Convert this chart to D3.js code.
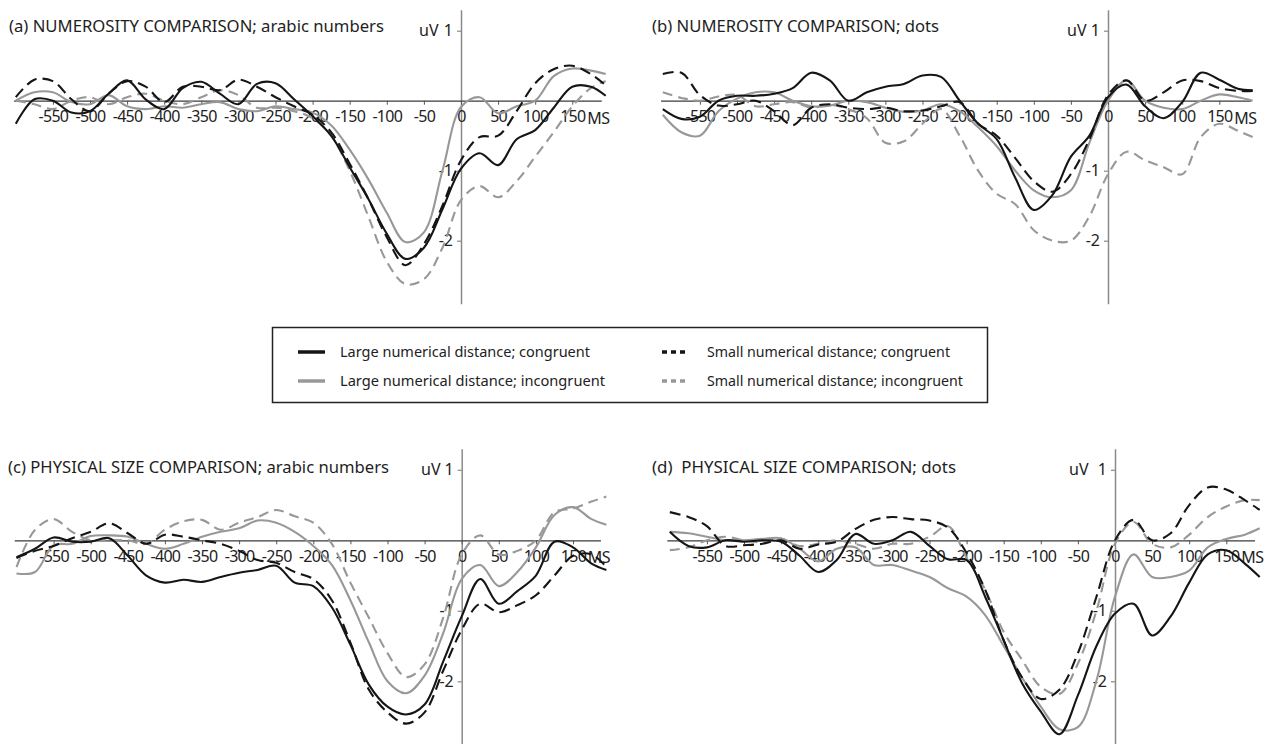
<!DOCTYPE html>
<html>
<head>
<meta charset="utf-8">
<script src="https://cdn.jsdelivr.net/npm/d3@7"></script>
<style>
  body { margin: 0; background: #fff; }
  svg { display: block; }
  text { font-family: "Noto Sans", "Open Sans", sans-serif; }
</style>
</head>
<body>
<svg id="chart" width="1264" height="744"></svg>
<script>
// Sample times (ms, relative to response) shared by every waveform
const times = [-600,-575,-550,-525,-500,-475,-450,-425,-400,-375,-350,-325,-300,-275,-250,-225,-200,
               -175,-150,-125,-100,-75,-50,-25,0,25,50,75,100,125,150,175,195];

const xTickValues = [-550,-500,-450,-400,-350,-300,-250,-200,-150,-100,-50,0,50,100,150];
const yTickValues = [1,-1,-2];

const seriesLabels = [
  "Large numerical distance; congruent",
  "Large numerical distance; incongruent",
  "Small numerical distance; congruent",
  "Small numerical distance; incongruent"
];

const panelTitles = [
  "(a) NUMEROSITY COMPARISON; arabic numbers",
  "(b) NUMEROSITY COMPARISON; dots",
  "(c) PHYSICAL SIZE COMPARISON; arabic numbers",
  "(d)  PHYSICAL SIZE COMPARISON; dots"
];

// (a) numerosity comparison, arabic numbers (uV)
const numArabicLargeCong   = [-0.33,0.02,0.0,-0.17,-0.15,0.1,0.29,0.02,-0.12,0.18,0.27,0.1,-0.05,0.24,0.25,0.02,-0.22,-0.5,-0.95,-1.4,-1.9,-2.26,-2.1,-1.55,-0.97,-0.75,-0.92,-0.55,-0.42,-0.1,0.2,0.2,0.07];
const numArabicLargeIncong = [0.0,0.12,0.12,-0.02,-0.05,0.08,-0.08,-0.12,-0.08,-0.1,-0.05,-0.02,-0.12,-0.15,-0.08,-0.12,-0.17,-0.35,-0.7,-1.12,-1.6,-2.02,-1.88,-1.0,-0.09,0.05,-0.18,-0.08,0.0,0.35,0.46,0.43,0.38];
const numArabicSmallCong   = [0.05,0.3,0.28,0.02,-0.15,0.1,0.28,0.2,-0.02,0.2,0.2,0.15,0.3,0.2,0.05,-0.08,-0.2,-0.45,-0.9,-1.4,-1.95,-2.35,-2.05,-1.5,-0.85,-0.52,-0.5,-0.15,0.25,0.45,0.5,0.38,0.22];
const numArabicSmallIncong = [0.0,-0.05,-0.12,0.0,0.05,-0.05,0.05,0.1,0.0,-0.05,0.05,0.15,0.08,-0.1,-0.1,-0.15,-0.25,-0.5,-1.0,-1.65,-2.3,-2.62,-2.55,-2.1,-1.42,-1.22,-1.38,-1.15,-0.8,-0.45,-0.08,0.18,0.28];

// (b) numerosity comparison, dots
const numDotsLargeCong   = [-0.12,-0.26,-0.23,0.0,0.07,0.07,0.1,0.18,0.4,0.29,0.0,0.12,0.2,0.24,0.36,0.34,0.0,-0.33,-0.55,-1.1,-1.56,-1.35,-0.8,-0.5,0.05,0.23,-0.08,-0.25,-0.02,0.4,0.3,0.17,0.15];
const numDotsLargeIncong = [-0.2,-0.45,-0.5,-0.15,0.03,0.12,0.12,0.0,-0.08,-0.07,0.0,-0.02,-0.1,-0.16,-0.14,-0.05,-0.15,-0.38,-0.65,-1.0,-1.28,-1.38,-1.28,-0.6,0.0,0.29,0.0,-0.1,-0.12,0.0,0.09,0.05,0.0];
const numDotsSmallCong   = [0.38,0.4,0.08,-0.07,-0.05,0.0,-0.15,-0.35,-0.1,-0.05,-0.1,-0.12,-0.1,-0.15,-0.14,-0.08,-0.02,-0.33,-0.5,-0.82,-1.15,-1.3,-1.05,-0.55,0.08,0.29,0.0,0.12,0.29,0.28,0.18,0.14,0.14];
const numDotsSmallIncong = [0.12,0.04,0.0,0.06,0.08,-0.08,-0.05,-0.02,-0.1,-0.06,-0.12,-0.25,-0.6,-0.58,-0.33,-0.12,-0.5,-1.0,-1.33,-1.48,-1.85,-2.0,-2.0,-1.65,-1.05,-0.73,-0.85,-0.95,-1.05,-0.52,-0.33,-0.43,-0.52];

// (c) physical size comparison, arabic numbers
const sizeArabicLargeCong   = [-0.24,-0.12,0.04,-0.02,-0.02,0.03,-0.22,-0.5,-0.6,-0.56,-0.59,-0.52,-0.46,-0.42,-0.36,-0.6,-0.65,-0.95,-1.48,-2.05,-2.36,-2.47,-2.33,-1.72,-1.08,-0.55,-0.9,-0.72,-0.5,-0.02,-0.1,-0.33,-0.42];
const sizeArabicLargeIncong = [-0.47,-0.45,-0.07,-0.05,0.06,0.07,0.05,-0.05,-0.12,-0.05,0.05,0.12,0.17,0.28,0.25,0.12,-0.08,-0.35,-0.85,-1.45,-2.0,-2.17,-1.92,-1.32,-0.55,-0.35,-0.65,-0.45,-0.1,0.36,0.47,0.3,0.22];
const sizeArabicSmallCong   = [-0.25,-0.15,-0.08,0.03,0.12,0.24,0.1,-0.05,0.08,0.05,0.0,-0.05,-0.15,-0.28,-0.32,-0.45,-0.55,-0.85,-1.45,-2.12,-2.44,-2.6,-2.44,-1.85,-1.27,-0.9,-1.02,-0.92,-0.78,-0.5,-0.22,-0.2,-0.38];
const sizeArabicSmallIncong = [-0.38,0.15,0.3,0.12,0.0,0.0,0.0,-0.05,0.15,0.27,0.29,0.15,0.25,0.33,0.43,0.34,0.25,-0.05,-0.6,-1.1,-1.6,-1.94,-1.76,-1.1,-0.2,0.07,-0.2,-0.15,0.0,0.4,0.45,0.55,0.62];

// (d) physical size comparison, dots
const sizeDotsLargeCong   = [0.12,-0.08,-0.1,0.0,-0.02,0.0,-0.02,-0.22,-0.45,-0.28,0.09,-0.05,0.0,0.12,-0.08,-0.27,-0.28,-0.8,-1.42,-2.03,-2.43,-2.75,-2.2,-1.5,-1.04,-0.9,-1.35,-1.08,-0.6,-0.2,-0.14,-0.33,-0.52];
const sizeDotsLargeIncong = [0.12,0.1,0.05,0.0,0.0,0.02,0.03,-0.12,-0.3,-0.12,-0.1,-0.35,-0.35,-0.43,-0.52,-0.68,-0.8,-1.06,-1.5,-1.95,-2.36,-2.68,-2.65,-1.99,-0.8,-0.2,-0.52,-0.52,-0.43,-0.1,0.02,0.08,0.17];
const sizeDotsSmallCong   = [0.4,0.33,0.2,-0.08,-0.07,-0.05,0.0,-0.12,-0.06,-0.02,0.16,0.29,0.33,0.3,0.28,0.18,-0.18,-0.7,-1.42,-1.95,-2.25,-2.12,-1.6,-0.8,0.0,0.29,0.0,0.1,0.5,0.75,0.72,0.57,0.43];
const sizeDotsSmallIncong = [-0.14,-0.1,0.0,0.05,0.0,-0.03,0.02,-0.08,-0.05,0.0,-0.05,-0.12,-0.05,-0.05,0.05,0.2,-0.25,-0.7,-1.3,-1.7,-2.08,-2.18,-1.75,-1.0,-0.05,0.26,-0.05,-0.1,0.08,0.33,0.48,0.57,0.57];

// ---- layout & styles ----
const W = 1264, H = 744;
const MS_PX = 0.742;          // horizontal pixels per millisecond
const seriesStyle = [
  { color: "#151515", dash: null,   legendDash: null },
  { color: "#989898", dash: null,   legendDash: null },
  { color: "#151515", dash: "11,6", legendDash: "5,4" },
  { color: "#989898", dash: "10,6", legendDash: "5,4" }
];
const drawOrder = [3, 1, 2, 0];

const panels = [
  { title: panelTitles[0], series: [numArabicLargeCong, numArabicLargeIncong, numArabicSmallCong, numArabicSmallIncong],
    axisX: 461, zeroY: 100.7, uvPx: 70, titleX: 9, titleY: 32, titleW: 375, uvX: 419, tStart: -603, tEnd: 189 },
  { title: panelTitles[1], series: [numDotsLargeCong, numDotsLargeIncong, numDotsSmallCong, numDotsSmallIncong],
    axisX: 1108, zeroY: 100.7, uvPx: 70, titleX: 652, titleY: 32, titleW: 287, uvX: 1067, tStart: -603, tEnd: 192 },
  { title: panelTitles[2], series: [sizeArabicLargeCong, sizeArabicLargeIncong, sizeArabicSmallCong, sizeArabicSmallIncong],
    axisX: 461.7, zeroY: 540.3, uvPx: 70.5, titleX: 8, titleY: 473, titleW: 381, uvX: 421, tStart: -603, tEnd: 187 },
  { title: panelTitles[3], series: [sizeDotsLargeCong, sizeDotsLargeIncong, sizeDotsSmallCong, sizeDotsSmallIncong],
    axisX: 1115, zeroY: 540.3, uvPx: 70.5, titleX: 652, titleY: 473, titleW: 304, uvX: 1069, tStart: -604, tEnd: 188 }
];

const svg = d3.select("#chart");
svg.append("rect").attr("width", W).attr("height", H).attr("fill", "#fff");

panels.forEach(p => {
  const g = svg.append("g");
  const x = d3.scaleLinear()
    .domain([p.tStart, p.tEnd])
    .range([p.axisX + p.tStart * MS_PX, p.axisX + p.tEnd * MS_PX]);
  const y = d3.scaleLinear()
    .domain([1.3, -2.9])
    .range([p.zeroY - 1.3 * p.uvPx, p.zeroY + 2.9 * p.uvPx]);

  // title
  g.append("text")
    .attr("x", p.titleX).attr("y", p.titleY)
    .attr("font-size", 16.5).attr("fill", "#1e1e1e")
    .style("white-space", "pre")
    .attr("textLength", p.titleW).attr("lengthAdjust", "spacingAndGlyphs")
    .text(p.title);

  // vertical (uV) axis through time zero
  const yAxis = g.append("g")
    .attr("transform", `translate(${p.axisX},0)`)
    .call(d3.axisLeft(y).tickValues(yTickValues).tickSize(4).tickSizeOuter(0).tickPadding(4).tickFormat(d => String(d)));
  yAxis.select(".domain").attr("stroke", "#8a8a8a").attr("stroke-width", 1.5);
  yAxis.selectAll(".tick line").attr("stroke", "#8a8a8a").attr("stroke-width", 1.2);
  yAxis.selectAll(".tick text").attr("font-size", 16).attr("fill", "#222")
    .attr("font-family", "'Noto Sans', sans-serif");

  g.append("text")
    .attr("x", p.uvX).attr("y", y(1) + 5)
    .attr("font-size", 16).attr("fill", "#222")
    .text("uV");

  // horizontal time axis at 0 uV
  const xAxis = g.append("g")
    .attr("transform", `translate(0,${y(0)})`)
    .call(d3.axisBottom(x).tickValues(xTickValues).tickSize(4).tickSizeOuter(0).tickPadding(6).tickFormat(d => String(d)));
  xAxis.select(".domain").attr("stroke", "#3a3a3a").attr("stroke-width", 1.3);
  xAxis.selectAll(".tick line").attr("stroke", "#555").attr("stroke-width", 1);
  xAxis.selectAll(".tick text").attr("font-size", 16).attr("fill", "#222")
    .attr("font-family", "'Noto Sans', sans-serif")
    .attr("letter-spacing", "-0.7");

  g.append("text")
    .attr("x", x(170)).attr("y", y(0) + 23)
    .attr("font-size", 16).attr("fill", "#222")
    .attr("letter-spacing", "-0.5")
    .text("MS");

  // waveforms
  const line = d3.line()
    .x((d, i) => x(times[i]))
    .y(d => y(d))
    .curve(d3.curveCatmullRom.alpha(0.5));

  drawOrder.forEach(k => {
    const st = seriesStyle[k];
    g.append("path")
      .datum(p.series[k])
      .attr("d", line)
      .attr("fill", "none")
      .attr("stroke", st.color)
      .attr("stroke-width", 2.1)
      .attr("stroke-linejoin", "round")
      .attr("stroke-dasharray", st.dash);
  });
});

// ---- legend ----
const legend = svg.append("g");
legend.append("rect")
  .attr("x", 272.5).attr("y", 327.5).attr("width", 715).attr("height", 75)
  .attr("fill", "#fff").attr("stroke", "#222").attr("stroke-width", 1.5);

const legendSlots = [
  { sx: 298, tx: 340, y: 352, w: 250 },
  { sx: 298, tx: 340, y: 381, w: 265 },
  { sx: 662, tx: 707, y: 352, w: 243 },
  { sx: 662, tx: 707, y: 381, w: 256 }
];
legendSlots.forEach((s, k) => {
  const st = seriesStyle[k];
  legend.append("line")
    .attr("x1", s.sx).attr("x2", s.sx + 27)
    .attr("y1", s.y).attr("y2", s.y)
    .attr("stroke", st.color).attr("stroke-width", 3.5)
    .attr("stroke-dasharray", st.legendDash);
  legend.append("text")
    .attr("x", s.tx).attr("y", s.y).attr("dy", "0.35em")
    .attr("font-size", 14.5).attr("fill", "#222")
    .attr("textLength", s.w).attr("lengthAdjust", "spacingAndGlyphs")
    .text(seriesLabels[k]);
});
</script>
</body>
</html>
